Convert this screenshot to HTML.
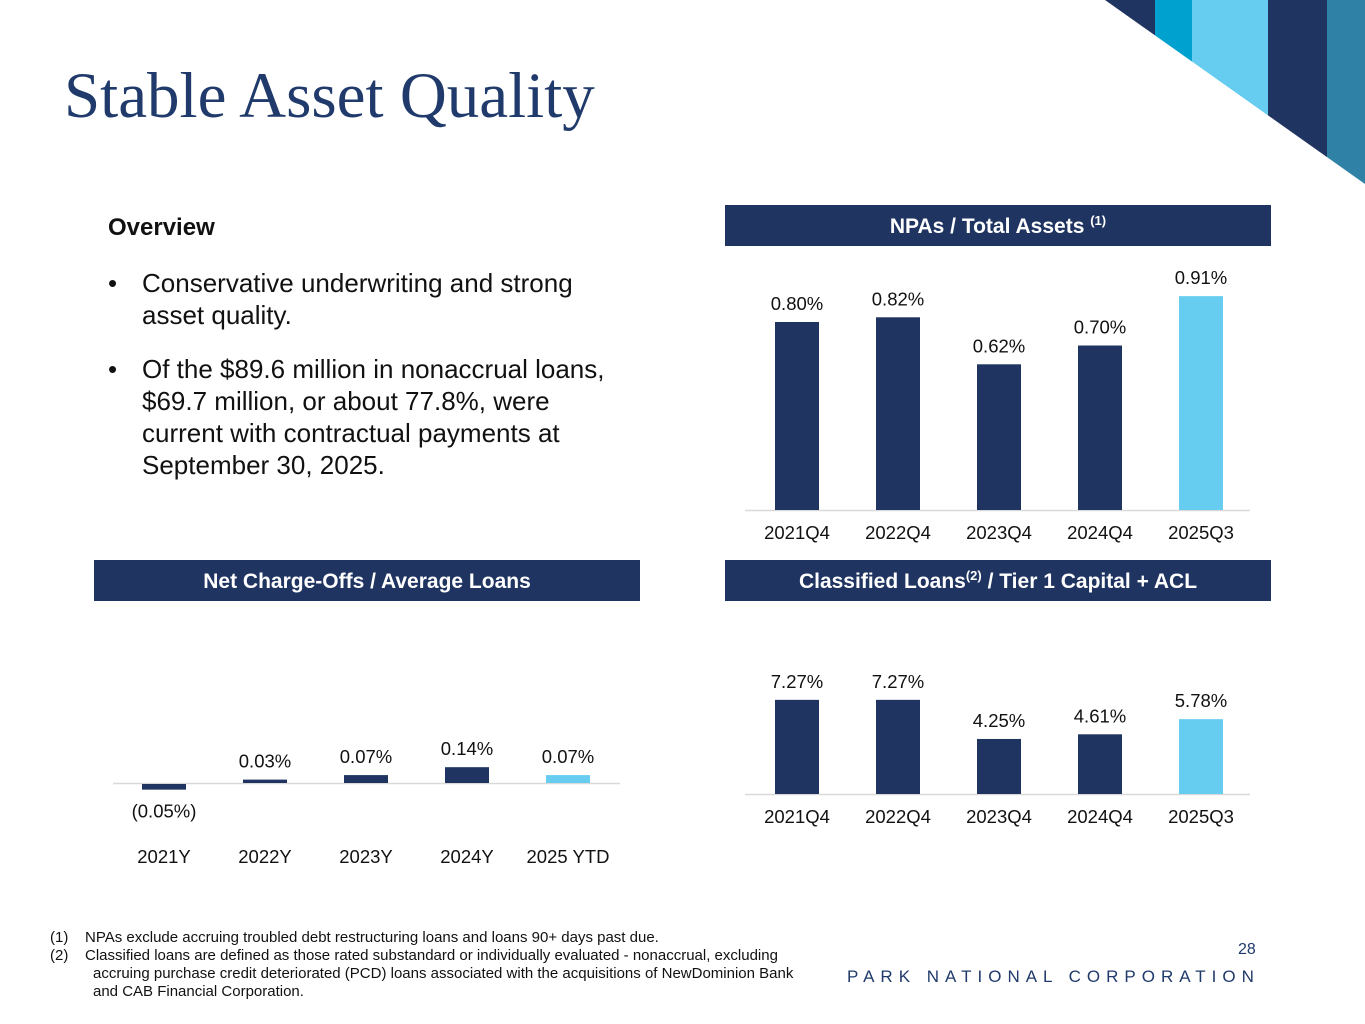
<!DOCTYPE html>
<html><head><meta charset="utf-8">
<style>
body{margin:0;width:1365px;height:1024px;background:#fff;position:relative;overflow:hidden;font-family:"Liberation Sans",Arial,sans-serif}
.abs{position:absolute}
.title{left:64px;top:59px;font-family:"Liberation Serif",serif;font-size:65px;color:#1f3a6b;white-space:nowrap}
.hdr{background:#1f3461;color:#fff;font-weight:bold;font-size:21px;text-align:center;height:41px;line-height:43px;white-space:nowrap}
.hdr sup{font-size:13px;line-height:0;vertical-align:8px}
.ov{left:108px;top:214px;font-weight:bold;font-size:24px;color:#111}
ul{position:absolute;left:108px;top:267px;margin:0;padding:0;list-style:none;width:530px;font-size:26px;line-height:32px;color:#111}
li{position:relative;padding-left:34px;margin-bottom:22px}
li:before{content:"•";position:absolute;left:0}
.fn{left:50px;top:929px;font-size:15px;line-height:18px;color:#111}
.fn div{padding-left:43px;text-indent:-43px}
svg text{font-family:"Liberation Sans",Arial,sans-serif}
</style></head><body>
<svg class="abs" style="left:0;top:0" width="1365" height="1024">
<defs><clipPath id="tri"><polygon points="1105,0 1365,0 1365,184"/></clipPath></defs>
<g clip-path="url(#tri)">
<rect x="1105" y="0" width="50" height="200" fill="#1f3461"/>
<rect x="1155" y="0" width="37" height="200" fill="#00a1cf"/>
<rect x="1192" y="0" width="76" height="200" fill="#66ccf0"/>
<rect x="1268" y="0" width="59" height="200" fill="#1f3461"/>
<rect x="1327" y="0" width="38" height="200" fill="#2f82a6"/>
</g></svg>
<div class="abs title">Stable Asset Quality</div>
<div class="abs ov">Overview</div>
<ul>
<li>Conservative underwriting and strong<br>asset quality.</li>
<li>Of the $89.6 million in nonaccrual loans,<br>$69.7 million, or about 77.8%, were<br>current with contractual payments at<br>September 30, 2025.</li>
</ul>
<div class="abs hdr" style="left:725px;top:205px;width:546px">NPAs / Total Assets <sup>(1)</sup></div>
<div class="abs hdr" style="left:94px;top:560px;width:546px">Net Charge-Offs / Average Loans</div>
<div class="abs hdr" style="left:725px;top:560px;width:546px">Classified Loans<sup>(2)</sup> / Tier 1 Capital + ACL</div>
<svg id="charts" class="abs" style="left:0;top:0" width="1365" height="1024"></svg>
<div class="abs fn">
<div>(1)&nbsp;&nbsp;&nbsp; NPAs exclude accruing troubled debt restructuring loans and loans 90+ days past due.</div>
<div style="width:780px">(2)&nbsp;&nbsp;&nbsp; Classified loans are defined as those rated substandard or individually evaluated - nonaccrual, excluding<br>accruing purchase credit deteriorated (PCD) loans associated with the acquisitions of NewDominion Bank<br>and CAB Financial Corporation.</div>
</div>
<div class="abs" style="left:1238px;top:941px;font-size:16px;color:#1f3a6b">28</div>
<div class="abs" style="left:847px;top:967px;font-size:17px;letter-spacing:6px;color:#1f3a6b;white-space:nowrap">PARK NATIONAL CORPORATION</div>
<script>
const npaCats=["2021Q4","2022Q4","2023Q4","2024Q4","2025Q3"];
const npaVals=[0.80,0.82,0.62,0.70,0.91];
const npaLabels=["0.80%","0.82%","0.62%","0.70%","0.91%"];
const ncoCats=["2021Y","2022Y","2023Y","2024Y","2025 YTD"];
const ncoVals=[-0.05,0.03,0.07,0.14,0.07];
const ncoLabels=["(0.05%)","0.03%","0.07%","0.14%","0.07%"];
const clCats=["2021Q4","2022Q4","2023Q4","2024Q4","2025Q3"];
const clVals=[7.27,7.27,4.25,4.61,5.78];
const clLabels=["7.27%","7.27%","4.25%","4.61%","5.78%"];
const NS="http://www.w3.org/2000/svg";
const svg=document.getElementById('charts');
function mk(tag,attrs){const e=document.createElementNS(NS,tag);for(const k in attrs)e.setAttribute(k,attrs[k]);svg.appendChild(e);return e;}
function chart(name,cats,vals,labels,x0,step,base,scale,axisX1,axisX2,catY){
  const ax=mk('line',{x1:axisX1,x2:axisX2,y1:base+0.5,y2:base+0.5,stroke:'#d9d9d9','stroke-width':1.5});
  
  
  cats.forEach((c,i)=>{
    const cx=x0+i*step, v=vals[i], h=Math.abs(v)*scale;
    const y=v>=0?base-h:base+1;
    const r=mk('rect',{x:cx-22,y:y,width:44,height:h,fill:i===cats.length-1?'#66ccf0':'#1f3461'});
    
    
    const ly=v>=0?base-h-12:base+h+29;
    const t=mk('text',{x:cx,y:ly,'text-anchor':'middle','font-size':18.5,fill:'#111'});t.textContent=labels[i];
    
    
    const ct=mk('text',{x:cx,y:catY,'text-anchor':'middle','font-size':18.5,fill:'#111'});ct.textContent=c;
    
    
  });
}
chart('npa',npaCats,npaVals,npaLabels,797,101,510,235,745,1250,539);
chart('nco',ncoCats,ncoVals,ncoLabels,164,101,783,113,113,620,863);
chart('classified',clCats,clVals,clLabels,797,101,794,12.95,745,1250,823);
</script>
</body></html>
